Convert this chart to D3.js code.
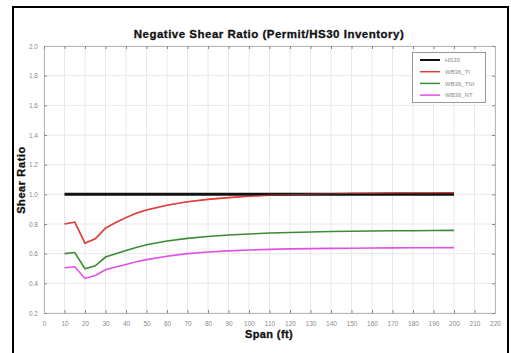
<!DOCTYPE html>
<html><head><meta charset="utf-8">
<script src="https://cdn.jsdelivr.net/npm/d3@7"></script>
<style>body{margin:0;background:#fff;}svg{display:block;font-family:"Liberation Sans",Arial,sans-serif;}</style>
</head><body>
<script>
const spans = [10,15,20,25,30,35,40,45,50,60,70,80,90,100,110,120,130,140,150,160,170,180,190,200];
const hs30   = [1,1,1,1,1,1,1,1,1,1,1,1,1,1,1,1,1,1,1,1,1,1,1,1];
const wb36TI = [0.800,0.813,0.671,0.700,0.772,0.810,0.843,0.872,0.895,0.927,0.950,0.966,0.978,0.987,0.994,0.999,1.002,1.004,1.006,1.007,1.008,1.009,1.009,1.010];
const wb36TNI= [0.600,0.608,0.498,0.518,0.577,0.600,0.622,0.642,0.660,0.685,0.703,0.716,0.726,0.733,0.739,0.743,0.746,0.749,0.751,0.753,0.754,0.755,0.756,0.757];
const wb36NT = [0.505,0.512,0.433,0.453,0.491,0.510,0.527,0.545,0.560,0.583,0.600,0.611,0.619,0.625,0.629,0.632,0.634,0.636,0.637,0.638,0.639,0.640,0.640,0.641];
const seriesNames = ["HS30","WB36_TI","WB36_TNI","WB36_NT"];
const seriesColors = ["#111111","#e0403a","#3a8c34","#e050e6"];
const seriesWidths = [3,1.6,1.6,1.6];
const xTicks = d3.range(0,221,10);
const yTicks = [0.2,0.4,0.6,0.8,1.0,1.2,1.4,1.6,1.8,2.0];

const W=511,H=353;
const svg=d3.select("body").append("svg").attr("width",W).attr("height",H);
svg.append("rect").attr("x",13).attr("y",7).attr("width",495).attr("height",360).attr("fill","none").attr("stroke","#000").attr("stroke-width",2);

const L=44,R=495,T=46,B=313;
const x=d3.scaleLinear().domain([0,220]).range([L,R]);
const y=d3.scaleLinear().domain([0.2,2.0]).range([B,T]);

// grid
svg.append("g").selectAll("line").data(xTicks).join("line")
  .attr("x1",d=>x(d)).attr("x2",d=>x(d)).attr("y1",T).attr("y2",B)
  .attr("stroke","#e8e8e8").attr("stroke-width",1);
svg.append("g").selectAll("line").data(yTicks).join("line")
  .attr("x1",L).attr("x2",R).attr("y1",d=>y(d)).attr("y2",d=>y(d))
  .attr("stroke","#e8e8e8").attr("stroke-width",1);

// axes
const ax=d3.axisBottom(x).tickValues(xTicks).tickFormat(d3.format("d")).tickSize(-3).tickPadding(8);
const gx=svg.append("g").attr("transform",`translate(0,${B})`).call(ax);
const ay=d3.axisLeft(y).tickValues(yTicks).tickFormat(d3.format(".1f")).tickSize(-3).tickPadding(6);
const gy=svg.append("g").attr("transform",`translate(${L},0)`).call(ay);
const gt=svg.append("g").attr("transform",`translate(0,${T})`).call(d3.axisTop(x).tickValues(xTicks).tickFormat("").tickSize(-3));
const gr=svg.append("g").attr("transform",`translate(${R},0)`).call(d3.axisRight(y).tickValues(yTicks).tickFormat("").tickSize(-3));
[gx,gy,gt,gr].forEach(g=>{
  g.select(".domain").attr("stroke","#b8b8b8");
  g.selectAll(".tick line").attr("stroke","#888");
  g.selectAll("text").attr("fill","#8a8a8a").style("font-size","6.5px").style("font-family","'Liberation Sans',Arial,sans-serif");
});

// lines
const data=[hs30,wb36TI,wb36TNI,wb36NT];
const line=d3.line().x((d,i)=>x(spans[i])).y(d=>y(d));
const order=[3,2,1,0];
order.forEach(k=>{
  svg.append("path").datum(data[k]).attr("d",line).attr("fill","none")
    .attr("stroke",seriesColors[k]).attr("stroke-width",seriesWidths[k]);
});
svg.append("path").datum(wb36TI).attr("d",line).attr("fill","none").attr("stroke",seriesColors[1]).attr("stroke-width",1.2).attr("opacity",0.6);

// legend
const lg=svg.append("g");
lg.append("rect").attr("x",412.5).attr("y",52.5).attr("width",73).attr("height",50).attr("fill","#fff").attr("stroke","#999").attr("stroke-width",1);
seriesNames.forEach((n,i)=>{
  const yy=60+i*11.7;
  lg.append("line").attr("x1",420).attr("x2",440).attr("y1",yy).attr("y2",yy).attr("stroke",seriesColors[i]).attr("stroke-width",i===0?2:1.5);
  lg.append("text").attr("x",445).attr("y",yy+2.2).text(n).attr("fill","#8a8a8a").style("font-size","6px");
});

// titles
svg.append("text").attr("x",269).attr("y",38).attr("text-anchor","middle")
  .style("font-size","11.5px").style("font-weight","bold").style("letter-spacing","0.5px").attr("fill","#111")
  .attr("stroke","#111").attr("stroke-width",0.3)
  .text("Negative Shear Ratio (Permit/HS30 Inventory)");
svg.append("text").attr("x",269).attr("y",338).attr("text-anchor","middle")
  .style("font-size","11px").style("font-weight","bold").style("letter-spacing","0.4px").attr("fill","#111")
  .attr("stroke","#111").attr("stroke-width",0.3)
  .text("Span (ft)");
svg.append("text").attr("transform","translate(25,180) rotate(-90)").attr("text-anchor","middle")
  .style("font-size","11px").style("font-weight","bold").style("letter-spacing","0.6px").attr("fill","#111")
  .attr("stroke","#111").attr("stroke-width",0.3)
  .text("Shear Ratio");
</script>
</body></html>
